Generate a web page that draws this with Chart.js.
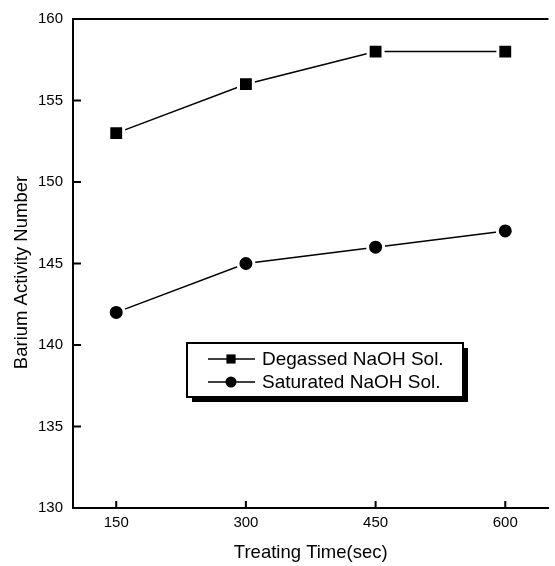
<!DOCTYPE html>
<html>
<head>
<meta charset="utf-8">
<script src="https://cdn.jsdelivr.net/npm/chart.js@4.4.1/dist/chart.umd.min.js"></script>
<style>
    html, body { margin: 0; padding: 0; background: #fff; overflow: hidden; }
    #wrap { position: relative; width: 562px; height: 566px; }
</style>
</head>
<body>
<div id="wrap"><canvas id="chart"></canvas></div>
<script>
// Values
const treatingTimes = [150, 300, 450, 600];
const degassedValues = [153, 156, 158, 158];
const saturatedValues = [142, 145, 146, 147];
const seriesLabels = ['Degassed NaOH Sol.', 'Saturated NaOH Sol.'];
const xTicks = [150, 300, 450, 600];
const yTicks = [130, 135, 140, 145, 150, 155, 160];
const xTitle = 'Treating Time(sec)';
const yTitle = 'Barium Activity Number';

const FONT = "'Liberation Sans', Arial, Helvetica, sans-serif";

function toPoints(values) {
    return treatingTimes.map((t, i) => ({ x: t, y: values[i] }));
}

// Top frame line, inward tick marks, y title (sits a bit below centre in the original)
const frameTicks = {
    id: 'frameTicks',
    afterDraw(chart) {
        const { ctx, chartArea: a, scales: { x, y } } = chart;
        ctx.save();
        ctx.strokeStyle = '#000';
        ctx.lineWidth = 2;
        ctx.beginPath();
        ctx.moveTo(a.left - 1, a.top);
        ctx.lineTo(a.right, a.top);
        xTicks.forEach(v => {
            const px = x.getPixelForValue(v);
            ctx.moveTo(px, a.bottom);
            ctx.lineTo(px, a.bottom - 7);
        });
        yTicks.forEach(v => {
            const py = y.getPixelForValue(v);
            ctx.moveTo(a.left, py);
            ctx.lineTo(a.left + 8, py);
        });
        ctx.stroke();

        ctx.translate(22, (a.top + a.bottom) / 2 + 9);
        ctx.rotate(-Math.PI / 2);
        ctx.fillStyle = '#000';
        ctx.font = `18.5px ${FONT}`;
        ctx.textAlign = 'center';
        ctx.textBaseline = 'middle';
        ctx.fillText(yTitle, 0, 0);
        ctx.restore();
    }
};

// Boxed legend with drop shadow inside the plot
const boxLegend = {
    id: 'boxLegend',
    afterDraw(chart) {
        const { ctx, chartArea: a } = chart;
        const bx = a.left + 114, by = a.top + 324, bw = 276, bh = 54;
        ctx.save();
        ctx.fillStyle = '#000';
        ctx.fillRect(bx + 5, by + 5, bw, bh);
        ctx.fillStyle = '#fff';
        ctx.fillRect(bx, by, bw, bh);
        ctx.lineWidth = 2;
        ctx.strokeStyle = '#000';
        ctx.strokeRect(bx, by, bw, bh);

        chart.data.datasets.forEach((ds, i) => {
            const cy = by + 16 + i * 23;
            ctx.strokeStyle = '#000';
            ctx.lineWidth = 1.5;
            ctx.beginPath();
            ctx.moveTo(bx + 21, cy);
            ctx.lineTo(bx + 68, cy);
            ctx.stroke();
            ctx.fillStyle = '#000';
            Chart.helpers.drawPoint(ctx, {
                pointStyle: ds.pointStyle,
                radius: ds.pointStyle === 'rect' ? 6.5 : 5.5,
                borderWidth: 0
            }, bx + 44, cy);
            ctx.font = `19px ${FONT}`;
            ctx.textBaseline = 'middle';
            ctx.textAlign = 'left';
            ctx.fillText(ds.label, bx + 75, cy + 1);
        });
        ctx.restore();
    }
};

const ctx = document.getElementById('chart');

new Chart(ctx, {
    type: 'line',
    data: {
        datasets: [
            {
                label: seriesLabels[0],
                data: toPoints(degassedValues),
                pointStyle: 'rect',
                pointRadius: 10.5,
                pointBorderWidth: 3,
                pointBackgroundColor: '#000',
                pointBorderColor: '#fff',
                borderColor: '#000',
                borderWidth: 1.5
            },
            {
                label: seriesLabels[1],
                data: toPoints(saturatedValues),
                pointStyle: 'circle',
                pointRadius: 8,
                pointBorderWidth: 3,
                pointBackgroundColor: '#000',
                pointBorderColor: '#fff',
                borderColor: '#000',
                borderWidth: 1.5
            }
        ]
    },
    options: {
        responsive: true,
        maintainAspectRatio: false,
        animation: false,
        layout: { padding: { top: 14, left: 0, right: 0, bottom: 0 } },
        plugins: {
            legend: { display: false },
            tooltip: { enabled: false }
        },
        scales: {
            x: {
                type: 'linear',
                min: 100,
                max: 650,
                afterBuildTicks: s => { s.ticks = xTicks.map(v => ({ value: v })); },
                afterFit: s => { s.height = 58; },
                grid: { display: false, drawTicks: false },
                border: { display: true, color: '#000', width: 2 },
                ticks: {
                    color: '#000',
                    font: { family: FONT, size: 15 },
                    padding: 6,
                    maxRotation: 0
                },
                title: {
                    display: true,
                    text: xTitle,
                    color: '#000',
                    font: { family: FONT, size: 18.5 },
                    padding: { top: 0, bottom: 2 }
                }
            },
            y: {
                min: 130,
                max: 160,
                afterBuildTicks: s => { s.ticks = yTicks.map(v => ({ value: v })); },
                afterFit: s => { s.width = 73; },
                grid: { display: false, drawTicks: false },
                border: { display: true, color: '#000', width: 2 },
                ticks: {
                    color: '#000',
                    font: { family: FONT, size: 15 },
                    padding: 10
                },
                title: { display: false }
            }
        }
    },
    plugins: [frameTicks, boxLegend]
});
</script>
</body>
</html>
